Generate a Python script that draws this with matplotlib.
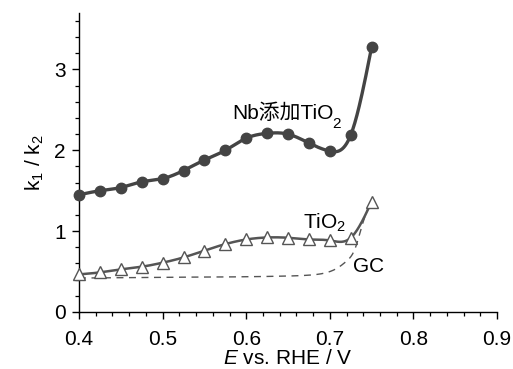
import numpy as np
import matplotlib
matplotlib.use("Agg")
import matplotlib.pyplot as plt

# ---- data ----
nb_x = [0.400, 0.425, 0.450, 0.475, 0.500, 0.525, 0.550, 0.575, 0.600, 0.625, 0.650, 0.675, 0.700, 0.725, 0.750]
nb_y = [1.45, 1.50, 1.54, 1.61, 1.65, 1.75, 1.88, 2.00, 2.15, 2.21, 2.20, 2.09, 1.99, 2.19, 3.28]

ti_x = [0.400, 0.425, 0.450, 0.475, 0.500, 0.525, 0.550, 0.575, 0.600, 0.625, 0.650, 0.675, 0.700, 0.725, 0.750]
ti_y = [0.465, 0.49, 0.527, 0.56, 0.61, 0.675, 0.76, 0.84, 0.897, 0.922, 0.918, 0.897, 0.885, 0.918, 1.366]

gc_x = [0.40, 0.45, 0.50, 0.55, 0.60, 0.65, 0.68, 0.70, 0.71, 0.72, 0.73, 0.74, 0.75]
gc_y = [0.42, 0.425, 0.43, 0.432, 0.436, 0.445, 0.46, 0.50, 0.55, 0.63, 0.78, 1.12, 1.38]

xticks = [0.4, 0.5, 0.6, 0.7, 0.8, 0.9]
yticks = [0, 1, 2, 3]


def natural_spline(x, y, n=400):
    x = np.asarray(x, float)
    y = np.asarray(y, float)
    m = len(x)
    h = np.diff(x)
    A = np.zeros((m, m))
    b = np.zeros(m)
    A[0, 0] = 1
    A[-1, -1] = 1
    for i in range(1, m - 1):
        A[i, i - 1] = h[i - 1]
        A[i, i] = 2 * (h[i - 1] + h[i])
        A[i, i + 1] = h[i]
        b[i] = 3 * ((y[i + 1] - y[i]) / h[i] - (y[i] - y[i - 1]) / h[i - 1])
    c = np.linalg.solve(A, b)
    xs = np.linspace(x[0], x[-1], n)
    ys = np.empty_like(xs)
    for k, xv in enumerate(xs):
        i = min(np.searchsorted(x, xv, side="right") - 1, m - 2)
        i = max(i, 0)
        dx = xv - x[i]
        bi = (y[i + 1] - y[i]) / h[i] - h[i] * (2 * c[i] + c[i + 1]) / 3
        di = (c[i + 1] - c[i]) / (3 * h[i])
        ys[k] = y[i] + bi * dx + c[i] * dx ** 2 + di * dx ** 3
    return xs, ys


plt.rcParams['font.family'] = ['Liberation Sans', 'Noto Sans CJK JP', 'DejaVu Sans']
plt.rcParams['mathtext.fontset'] = 'custom'
plt.rcParams['mathtext.rm'] = 'Liberation Sans'
plt.rcParams['mathtext.it'] = 'Liberation Sans:italic'
plt.rcParams['mathtext.default'] = 'regular'

FS = 15

fig = plt.figure(figsize=(5.13, 3.69), dpi=100)
ax = fig.add_axes([0.154, 0.1545, 0.815, 0.8105])

line_c = '#444444'

xs, ys = natural_spline(gc_x, gc_y)
ax.plot(xs, ys, ls=(0, (5, 4)), color='#555555', lw=1.0, zorder=2)

xs, ys = natural_spline(ti_x, ti_y)
ax.plot(xs, ys, color='#555555', lw=1.8, zorder=3)
ax.plot(ti_x, ti_y, ls='none', marker='^', ms=9, mfc='white', mec='#555555', mew=1.0,
        zorder=4, clip_on=False)

xs, ys = natural_spline(nb_x, nb_y)
ax.plot(xs, ys, color=line_c, lw=2.4, zorder=3)
ax.plot(nb_x, nb_y, ls='none', marker='o', ms=7.5, mfc=line_c, mec=line_c, zorder=4,
        clip_on=False)

ax.set_xlim(0.4, 0.9)
ax.set_ylim(0, 3.7)
ax.set_xticks(xticks)
ax.set_xticklabels([f"{t:.1f}" for t in xticks])
ax.set_yticks(yticks)
ax.set_yticklabels([str(t) for t in yticks])
ax.set_xticks(np.arange(0.4, 0.9001, 0.02), minor=True)
ax.set_yticks(np.arange(0, 3.61, 0.2), minor=True)

for s in ['top', 'right']:
    ax.spines[s].set_visible(False)
for s in ['left', 'bottom']:
    ax.spines[s].set_linewidth(1.0)
ax.tick_params(which='major', direction='out', length=5, width=1.0, labelsize=FS)
ax.tick_params(axis='x', which='major', pad=8)
ax.tick_params(axis='y', which='major', pad=4.5)
ax.tick_params(which='minor', direction='out', length=2.8, width=0.9)

ax.set_xlabel(r"$\mathit{E}$ vs. RHE / V", fontsize=FS, labelpad=0)
ax.set_ylabel(r"k$_1$ / k$_2$", fontsize=FS, labelpad=6)

t = ax.text(0.583, 2.39, "Nb添加TiO", fontsize=FS, ha='left', va='baseline')
ax.annotate("2", xy=(1, 0), xycoords=t, xytext=(-0.5, -3.5), textcoords='offset points',
            fontsize=11, ha='left', va='baseline')
ax.text(0.668, 1.035, "TiO$_2$", fontsize=FS, ha='left', va='baseline')
ax.text(0.728, 0.49, "GC", fontsize=FS, ha='left', va='baseline')

fig.savefig("out.png", dpi=100)
